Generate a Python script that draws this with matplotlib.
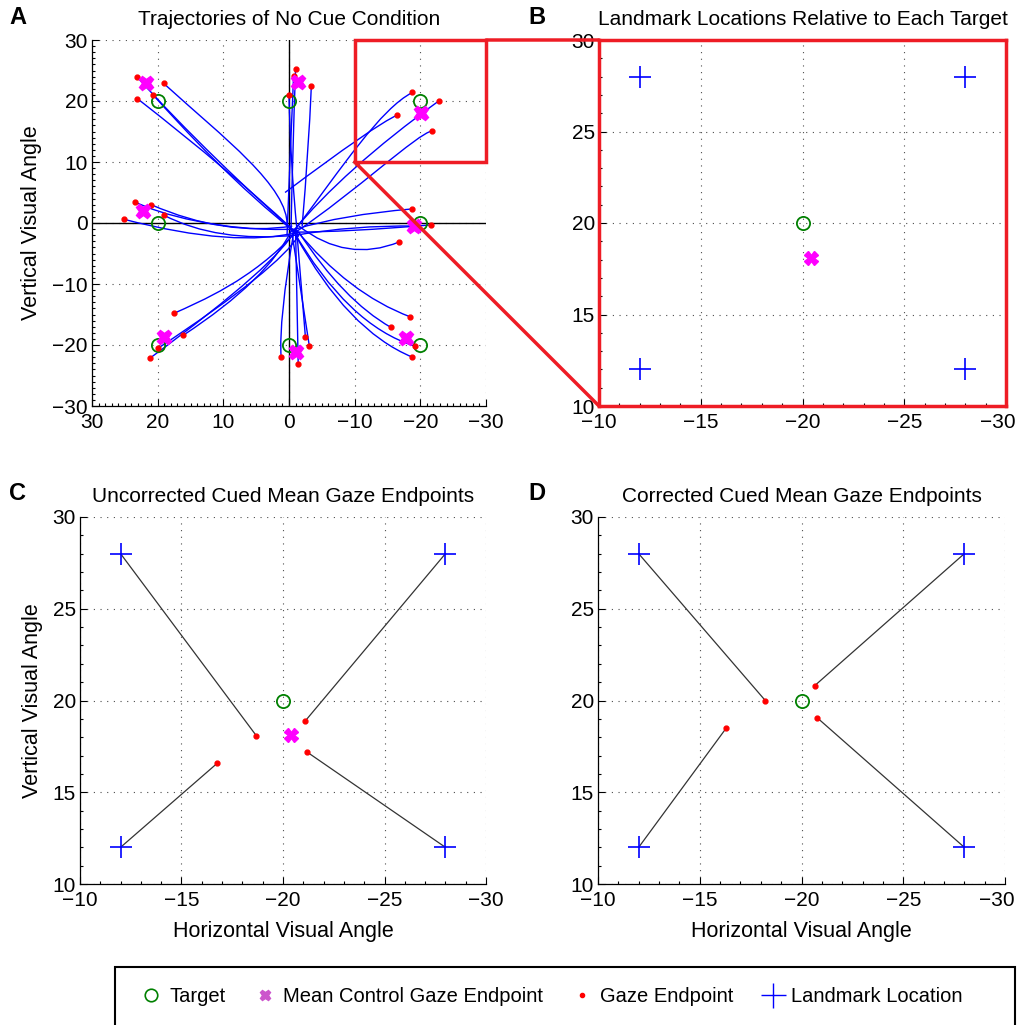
import matplotlib
matplotlib.use('Agg')
import matplotlib.pyplot as plt
from matplotlib.ticker import MultipleLocator, AutoMinorLocator
from matplotlib.patches import Rectangle, ConnectionPatch, PathPatch
from matplotlib.path import Path
from matplotlib.lines import Line2D
import matplotlib.transforms as mtransforms

plt.rcParams['font.family'] = ['Liberation Sans', 'DejaVu Sans']
plt.rcParams['axes.unicode_minus'] = True

# ---------------- data ----------------
# Panel A: targets and mean control gaze endpoints
targets_x = [20, 0, -20, 20, -20, 20, 0, -20]
targets_y = [20, 20, 20, 0, 0, -20, -20, -20]
control_x = [21.8, -1.3, -20.1, 22.2, -19.1, 19.1, -1.0, -17.8]
control_y = [23.0, 23.1, 18.0, 2.0, -0.5, -18.7, -21.2, -18.8]

# Panel A: trajectory shapes (start, bend control points, gaze endpoint last)
traj_x = [
    [-1.0, 6, 16.1, 23.1], [0.3, 0.0, 10, 19.1], [-1.5, 8, 16.1, 20.7], [-0.5, 8.7, 23.1],
    [-0.3, -0.55, -1.0], [0.3, -0.2, -0.7], [-2.0, -3.0, -3.4], [-1.2, -0.2, 0.0],
    [-1.0, -8, -14.0, -18.8], [-0.5, -8.35, -22.8], [0.6, -13.0, -16.5], [-1.0, -10, -19.6, -21.8],
    [-1.0, 10, 20, 23.5], [-0.5, 9.75, 21.0], [-1.5, 8.2, 25.1], [-1.0, 10.95, 19.1],
    [-1.0, -8.15, -18.7], [-0.5, -8.9, -21.7], [-1.5, -8.85, -16.8], [-1.0, -9.85, -19.3],
    [-1.0, 5.5, 13.6, 17.5], [-0.5, 3.2, 16.1], [-1.5, 1.4, 19.9], [-1.0, 1.35, 21.1],
    [-0.8, 1.6, 1.2], [-1.2, -2.5], [-0.5, -3.1], [-1.0, -1.4],
    [-1.0, -9.05, -18.5], [-1.5, -8.3, -15.5], [-0.5, -8.95, -19.2], [-1.0, -8.9, -18.8],
]
traj_y = [
    [-1.5, 5, 15.5, 23.9], [-0.5, 5.9, 14, 22.9], [-2.0, 6, 15.5, 21.0], [-1.0, 8.3, 20.4],
    [-1.5, 12.15, 25.2], [-2.0, 12, 24.1], [-0.5, 12, 22.4], [-1.0, 10, 21.0],
    [-1.0, 9, 18.8, 21.4], [-1.5, 8.75, 20.0], [5.0, 16.0, 17.7], [-1.5, 5, 14.7, 15.1],
    [-1.0, -1.5, 1.5, 3.5], [-0.5, -2.25, 3.0], [-1.5, -4.15, 0.6], [-2.0, -3.25, 1.3],
    [-1.0, 1.35, 2.3], [-1.5, -1.5, -0.3], [-0.5, -6.6, -3.1], [-2.0, -0.35, -0.5],
    [-1.5, -9.3, -12.9, -14.8], [-1.0, -9.3, -18.4], [-2.0, -7.35, -20.5], [-1.0, -6.45, -22.1],
    [-1.0, -16.0, -22.0], [-1.5, -18.7], [-2.0, -20.2], [-1.0, -23.1],
    [-1.0, -11.6, -15.4], [-1.5, -12.7, -17.1], [-1.0, -16.8, -20.2], [-2.0, -17.6, -22.0],
]

# Panels B-D: landmarks relative to target
landmark_x = [-12, -28, -12, -28]
landmark_y = [28, 28, 12, 12]
cue_target = (-20, 20)
cue_control = (-20.4, 18.1)

# Panel C: uncorrected cued mean gaze endpoints (one per landmark)
uncorr_x = [-18.68, -21.10, -16.77, -21.2]
uncorr_y = [18.09, 18.89, 16.59, 17.18]
# Panel D: corrected cued mean gaze endpoints
corr_x = [-18.22, -20.64, -16.31, -20.76]
corr_y = [20.0, 20.80, 18.51, 19.07]

titles = ['Trajectories of No Cue Condition',
          'Landmark Locations Relative to Each Target',
          'Uncorrected Cued Mean Gaze Endpoints',
          'Corrected Cued Mean Gaze Endpoints']
legend_labels = ['Target', 'Mean Control Gaze Endpoint', 'Gaze Endpoint', 'Landmark Location']

# ---------------- styles ----------------
W, H = 1019, 1025
RED = '#ee1c25'
GREEN = '#008000'
MAG = '#ff00ff'
BLUE = '#0000ff'
FS_TICK = 15
FS_LABEL = 15.5
FS_TITLE = 15

fig = plt.figure(figsize=(W / 100, H / 100), dpi=100)


def pos(x0, x1, y0, y1):
    return [x0 / W, 1 - y1 / H, (x1 - x0) / W, (y1 - y0) / H]


axA = fig.add_axes(pos(92, 486, 40, 406))
axB = fig.add_axes(pos(599, 1006, 40, 406))
axC = fig.add_axes(pos(80, 486, 517, 884))
axD = fig.add_axes(pos(598, 1005, 517, 884))

grid_kw = dict(color='0.3', linestyle=(0, (1, 5)), linewidth=0.8)


def style(ax, xlim, ylim, step, minor):
    ax.set_xlim(*xlim)
    ax.set_ylim(*ylim)
    ax.xaxis.set_major_locator(MultipleLocator(step))
    ax.yaxis.set_major_locator(MultipleLocator(step))
    ax.xaxis.set_minor_locator(AutoMinorLocator(minor))
    ax.yaxis.set_minor_locator(AutoMinorLocator(minor))
    ax.tick_params(which='both', direction='in', top=False, right=False,
                   labelsize=FS_TICK, width=0.8)
    ax.tick_params(which='major', length=5)
    ax.tick_params(axis='x', which='major', pad=5)
    ax.tick_params(axis='y', which='major', pad=3)
    ax.tick_params(which='minor', length=2.5)
    ax.grid(True, which='major', **grid_kw)
    ax.set_axisbelow(True)
    for s in ['top', 'right']:
        ax.spines[s].set_visible(False)
    for s in ['left', 'bottom']:
        ax.spines[s].set_linewidth(0.9)


CODES = {2: [Path.MOVETO, Path.LINETO],
         3: [Path.MOVETO, Path.CURVE3, Path.CURVE3],
         4: [Path.MOVETO, Path.CURVE4, Path.CURVE4, Path.CURVE4]}

# ---- Panel A ----
style(axA, (30, -30), (-30, 30), 10, 10)
axA.axhline(0, color='black', lw=1.0, zorder=1)
axA.axvline(0, color='black', lw=1.0, zorder=1)
for xs, ys in zip(traj_x, traj_y):
    path = Path(list(zip(xs, ys)), CODES[len(xs)])
    axA.add_patch(PathPatch(path, fill=False, edgecolor=BLUE, lw=1.0, zorder=2))
axA.plot([t[-1] for t in traj_x], [t[-1] for t in traj_y], 'o', color='red',
         ms=3.5, mec='red', zorder=4, ls='none')
axA.plot(targets_x, targets_y, 'o', mfc='none', mec=GREEN, ms=9.5, mew=1.3, ls='none', zorder=3)
axA.plot(control_x, control_y, 'X', color=MAG, ms=10.5, mec=MAG, ls='none', zorder=5)
axA.add_patch(Rectangle((-10, 10), -20, 20, fill=False, edgecolor=RED, lw=2.5,
                        clip_on=False, zorder=6))
axA.set_ylabel('Vertical Visual Angle', fontsize=FS_LABEL, labelpad=7)
axA.set_title(titles[0], fontsize=FS_TITLE, pad=11)

# ---- Panels B-D common ----
for ax in (axB, axC, axD):
    style(ax, (-10, -30), (10, 30), 5, 5)
    ax.plot(landmark_x, landmark_y, '+', color=BLUE, ms=16, mew=1.2, ls='none', zorder=4)
    ax.plot([cue_target[0]], [cue_target[1]], 'o', mfc='none', mec=GREEN, ms=9.5, mew=1.3,
            ls='none', zorder=4)

# ---- Panel B ----
axB.plot([cue_control[0]], [cue_control[1]], 'X', color=MAG, mec=MAG, ms=9.5, ls='none', zorder=5)
for s in ['top', 'right', 'left', 'bottom']:
    axB.spines[s].set_visible(True)
    axB.spines[s].set_color(RED)
    axB.spines[s].set_linewidth(2.5)
axB.set_title(titles[1], fontsize=FS_TITLE, pad=11)

# ---- Panel C ----
for lx, ly, gx, gy in zip(landmark_x, landmark_y, uncorr_x, uncorr_y):
    axC.plot([lx, gx], [ly, gy], color='0.2', lw=0.9, zorder=3)
axC.plot(uncorr_x, uncorr_y, 'o', color='red', ms=3.5, ls='none', zorder=5)
axC.plot([cue_control[0]], [cue_control[1]], 'X', color=MAG, mec=MAG, ms=9.5, ls='none', zorder=5)
axC.set_title(titles[2], fontsize=FS_TITLE, pad=11)
axC.set_xlabel('Horizontal Visual Angle', fontsize=FS_LABEL, labelpad=8)
axC.set_ylabel('Vertical Visual Angle', fontsize=FS_LABEL, labelpad=7)

# ---- Panel D ----
for lx, ly, gx, gy in zip(landmark_x, landmark_y, corr_x, corr_y):
    axD.plot([lx, gx], [ly, gy], color='0.2', lw=0.9, zorder=3)
axD.plot(corr_x, corr_y, 'o', color='red', ms=3.5, ls='none', zorder=5)
axD.set_title(titles[3], fontsize=FS_TITLE, pad=11)
axD.set_xlabel('Horizontal Visual Angle', fontsize=FS_LABEL, labelpad=8)

# ---- zoom connectors ----
for a_pt, b_pt in [((-10, 10), (-10, 10)), ((-30, 30), (-10, 30))]:
    cp = ConnectionPatch(xyA=a_pt, coordsA=axA.transData, xyB=b_pt, coordsB=axB.transData,
                         color=RED, lw=2.5, zorder=10)
    fig.add_artist(cp)

# ---- panel letters ----
for letter, (x, y) in zip('ABCD', [(18, 18), (537, 18), (18, 494), (537, 494)]):
    fig.text(x / W, 1 - y / H, letter, fontsize=17, fontweight='bold', ha='center', va='center')

# ---- legend ----
handles = [
    Line2D([], [], marker='o', mfc='none', mec=GREEN, ms=9, mew=1.2, ls='none'),
    Line2D([], [], marker='X', color='#cc55cc', mec='#cc55cc', ms=7.5, ls='none'),
    Line2D([], [], marker='o', color='red', ms=3, ls='none'),
    Line2D([], [], marker='+', color=BLUE, ms=18, mew=1.0, ls='none'),
]
fig.legend(handles, legend_labels, loc='center', bbox_to_anchor=(552 / W, 1 - 997 / H),
           ncol=4, frameon=False, fontsize=14.5, handlelength=1.0, handletextpad=0.4,
           columnspacing=1.45)
fig.add_artist(Rectangle((115 / W, -0.05), 900 / W, (1025 - 967) / H + 0.05,
                         transform=fig.transFigure, fill=False, edgecolor='black', lw=1.5))

# nudge the right-most x tick label of the right-hand panels inward (as in the original)
fig.canvas.draw()
offset = mtransforms.ScaledTranslation(-8 / 100, 0, fig.dpi_scale_trans)
for ax in (axB, axD):
    for lbl in ax.get_xticklabels():
        if lbl.get_text() in ('\u221230', '-30'):
            lbl.set_transform(lbl.get_transform() + offset)

fig.savefig('out.png', dpi=100)
